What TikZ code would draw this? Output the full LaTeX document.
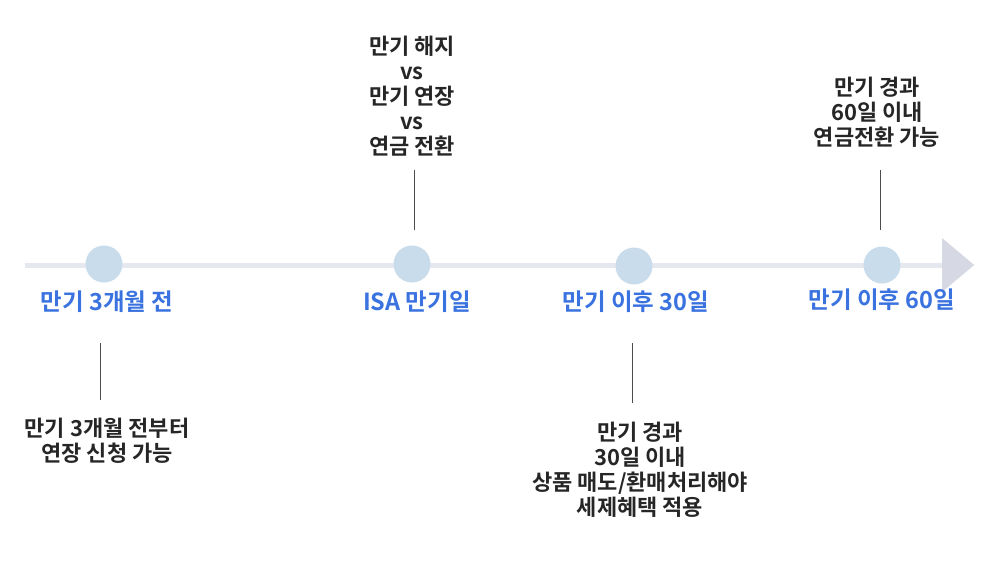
\documentclass[tikz,border=0pt]{standalone}
\usetikzlibrary{shapes.geometric}
\usepackage{fontspec}
\setmainfont{Noto Sans CJK KR Bold}
\definecolor{tl}{HTML}{E6E8EF}
\definecolor{dotc}{HTML}{C8DCEC}
\definecolor{lbl}{HTML}{3A72E0}
\definecolor{tri}{HTML}{D6D8E4}
\begin{document}
\begin{tikzpicture}[x=1pt,y=-1pt,
  dot/.style={circle,fill=dotc,minimum size=37pt,inner sep=0pt},
  lab/.style={text=lbl,font=\fontsize{23.5}{26}\selectfont},
  note/.style={align=center,font=\fontsize{22}{25}\selectfont,text=black!85,inner sep=0pt},
  tick/.style={draw=black!70,line width=0.9pt}]
\useasboundingbox (0,0) rectangle (1000,576);
\coordinate (s) at (25,265);
\coordinate (e) at (944,265);
\draw[tl,line width=5pt] (s) -- (e);
\node[fill=tri,isosceles triangle,isosceles triangle apex angle=80,minimum height=32pt,minimum width=34pt,inner sep=0pt,anchor=west] (arr) at (942,265) {};
\node[dot] (d1) at (104,264) {};
\node[dot] (d2) at (412,264) {};
\node[dot] (d3) at (634,266) {};
\node[dot] (d4) at (882,265) {};
\node[lab] (l1) at (107,302) {만기 3개월 전};
\node[lab] (l2) at (417,302) {ISA 만기일};
\node[lab] (l3) at (636,302) {만기 이후 30일};
\node[lab] (l4) at (882,300) {만기 이후 60일};
\coordinate (t2a) at (414,170); \coordinate (t2b) at (414,230);
\coordinate (t4a) at (880,170); \coordinate (t4b) at (880,230);
\coordinate (t1a) at (100,343); \coordinate (t1b) at (100,400);
\coordinate (t3a) at (632,343); \coordinate (t3b) at (632,403);
\draw[tick] (t2a)--(t2b); \draw[tick] (t4a)--(t4b);
\draw[tick] (t1a)--(t1b); \draw[tick] (t3a)--(t3b);
\node[note,anchor=south] (n2) at (412,156) {만기 해지\\vs\\만기 연장\\vs\\연금 전환};
\node[note,anchor=south] (n4) at (877,148) {만기 경과\\60일 이내\\연금전환 가능};
\node[note,anchor=north] (n1) at (107,418) {만기 3개월 전부터\\연장 신청 가능};
\node[note,anchor=north] (n3) at (640,422) {만기 경과\\30일 이내\\상품 매도/환매처리해야\\세제혜택 적용};
\end{tikzpicture}
\end{document}
